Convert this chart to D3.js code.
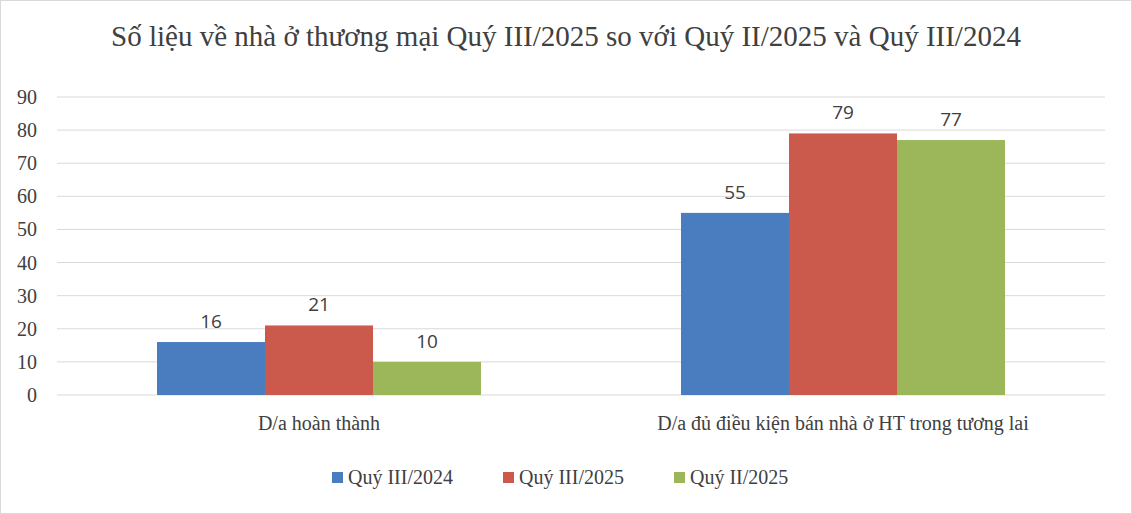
<!DOCTYPE html><html><head><meta charset="utf-8"><script src="https://cdn.jsdelivr.net/npm/d3@7"></script>
<style>body{margin:0;background:#fff}</style></head><body><svg id="c" width="1132" height="514"></svg>
<script>
const categories=["D/a hoàn thành","D/a đủ điều kiện bán nhà ở HT trong tương lai"];
const seriesNames=["Quý III/2024","Quý III/2025","Quý II/2025"];
const s1=[16,55], s2=[21,79], s3=[10,77];
const ticks=[0,10,20,30,40,50,60,70,80,90];
const colors=["#4a7dc0","#cb5a4d","#9bb75a"];
const serif="'Liberation Serif','Times New Roman',serif";
const svg=d3.select("#c");
svg.append("rect").attr("x",0.5).attr("y",0.5).attr("width",1131).attr("height",513).attr("fill","#fff").attr("stroke","#d9d9d9");
svg.append("text").attr("x",566).attr("y",46).attr("text-anchor","middle").attr("font-family",serif).attr("font-size",29).attr("fill","#404040").text("Số liệu về nhà ở thương mại Quý III/2025 so với Quý II/2025 và Quý III/2024");
const y=d3.scaleLinear().domain([0,90]).range([395,97]);
const x0=d3.scaleBand().domain(categories).range([57,1105]);
const x1=d3.scaleBand().domain(seriesNames).range([0,324]);
ticks.forEach(t=>{
 svg.append("line").attr("x1",57).attr("x2",1105).attr("y1",y(t)).attr("y2",y(t)).attr("stroke","#d9d9d9");
 svg.append("text").attr("x",37).attr("y",y(t)+7).attr("text-anchor","end").attr("font-family",serif).attr("font-size",20).attr("fill","#404040").text(t);
});
const series=[s1,s2,s3];
categories.forEach((c,i)=>{
 const gx=x0(c)+(x0.bandwidth()-324)/2;
 seriesNames.forEach((n,j)=>{
  const v=series[j][i];
  svg.append("rect").attr("x",gx+x1(n)).attr("y",y(v)).attr("width",x1.bandwidth()).attr("height",y(0)-y(v)).attr("fill",colors[j]);
  svg.append("text").attr("x",gx+x1(n)+x1.bandwidth()/2).attr("y",y(v)-14).attr("text-anchor","middle").attr("font-family","'Open Sans',sans-serif").attr("font-size",19).attr("fill","#404040").text(v);
 });
 svg.append("text").attr("x",x0(c)+x0.bandwidth()/2).attr("y",430).attr("text-anchor","middle").attr("font-family",serif).attr("font-size",20).attr("fill","#404040").text(c);
});
const lx=[332,503,674];
seriesNames.forEach((n,j)=>{
 svg.append("rect").attr("x",lx[j]).attr("y",472).attr("width",11).attr("height",11).attr("fill",colors[j]);
 svg.append("text").attr("x",lx[j]+16).attr("y",484).attr("font-family",serif).attr("font-size",20).attr("fill","#404040").text(n);
});
</script></body></html>
